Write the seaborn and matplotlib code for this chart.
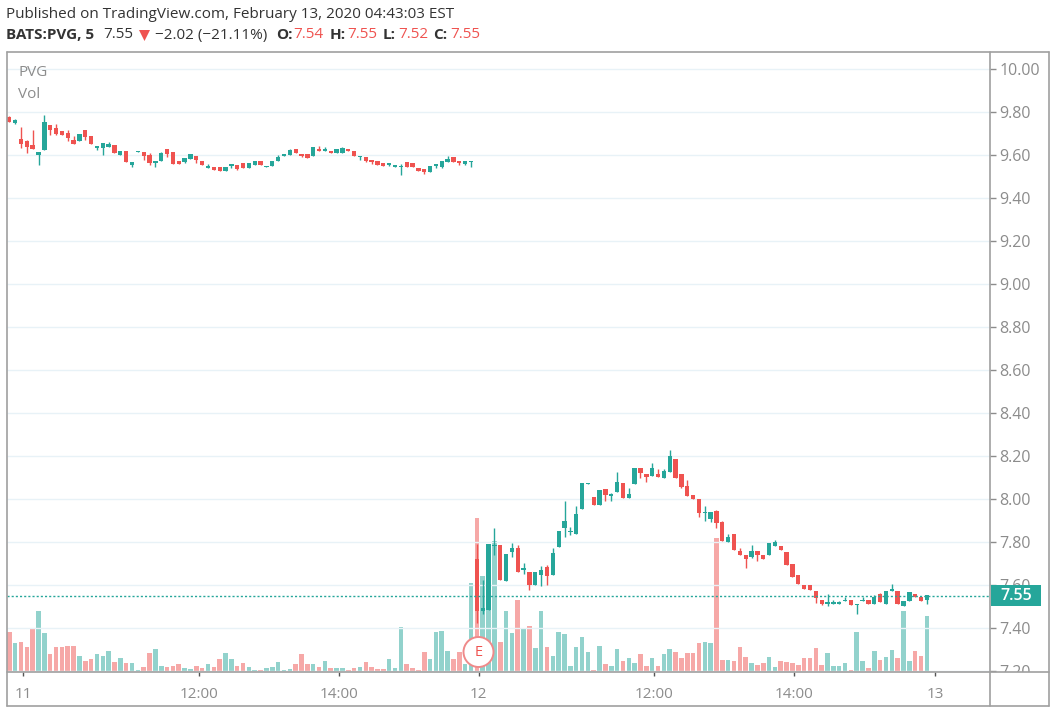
import numpy as np
import pandas as pd
import matplotlib
matplotlib.use("Agg")
import matplotlib.pyplot as plt
import seaborn as sns
from matplotlib.lines import Line2D
from matplotlib.patches import Rectangle, Circle, Polygon
from matplotlib.transforms import Affine2D, Bbox

opens = [9.78,9.75,9.676,9.668,9.647,9.60,9.625,9.743,9.725,9.713,9.703,9.671,9.666,9.719,9.69,9.636,9.636,9.638,9.647,9.60,
 9.619,9.554,9.614,9.617,9.60,9.566,9.573,9.628,9.617,9.576,9.571,9.585,9.598,9.576,9.543,9.546,9.546,9.525,9.552,9.557,
 9.563,9.54,9.557,9.572,9.546,9.55,9.574,9.598,9.603,9.631,9.608,9.608,9.598,9.631,9.622,9.619,9.609,9.609,9.631,9.622,
 9.591,9.591,9.58,9.574,9.563,9.557,9.547,9.546,9.567,9.563,9.54,9.538,9.522,9.549,9.544,9.567,9.591,9.572,9.561,9.567,
 7.721,7.479,7.484,7.783,7.786,7.619,7.752,7.774,7.67,7.662,7.60,7.648,7.685,7.647,7.777,7.865,7.847,7.836,7.954,8.07,
 8.008,7.975,8.045,8.016,8.034,8.073,8.005,8.07,8.143,8.119,8.109,8.119,8.098,8.127,8.189,8.115,8.062,8.02,8.003,7.935,
 7.907,7.946,7.892,7.799,7.839,7.758,7.74,7.733,7.757,7.74,7.741,7.781,7.781,7.752,7.699,7.647,7.60,7.60,7.571,7.53,
 7.513,7.513,7.514,7.526,7.53,7.506,7.526,7.53,7.513,7.558,7.513,7.571,7.571,7.502,7.526,7.558,7.546,7.533]
highs = [9.785,9.768,9.732,9.672,9.716,9.617,9.787,9.743,9.744,9.713,9.716,9.692,9.70,9.719,9.69,9.641,9.659,9.66,9.647,9.619,
 9.619,9.57,9.619,9.617,9.612,9.571,9.617,9.628,9.617,9.576,9.587,9.604,9.598,9.576,9.56,9.546,9.546,9.546,9.557,9.557,
 9.563,9.563,9.572,9.572,9.55,9.572,9.603,9.603,9.631,9.631,9.608,9.608,9.64,9.643,9.64,9.619,9.631,9.64,9.631,9.622,
 9.597,9.591,9.58,9.574,9.563,9.561,9.555,9.56,9.567,9.563,9.54,9.538,9.55,9.561,9.574,9.598,9.591,9.572,9.572,9.574,
 7.791,7.623,7.791,7.867,7.786,7.744,7.794,7.786,7.705,7.662,7.662,7.688,7.693,7.775,7.853,7.992,7.871,7.967,8.073,8.074,
 8.008,8.043,8.045,8.03,8.126,8.073,8.05,8.143,8.143,8.119,8.166,8.141,8.14,8.229,8.189,8.119,8.09,8.02,8.003,7.969,
 7.938,7.95,7.898,7.839,7.839,7.771,7.74,7.786,7.757,7.74,7.795,7.811,7.781,7.752,7.699,7.647,7.60,7.60,7.571,7.53,
 7.56,7.532,7.526,7.547,7.53,7.513,7.547,7.53,7.555,7.563,7.572,7.606,7.571,7.524,7.566,7.558,7.546,7.554]
lows = [9.757,9.745,9.636,9.612,9.63,9.554,9.625,9.697,9.697,9.697,9.665,9.655,9.666,9.671,9.655,9.624,9.60,9.638,9.612,9.60,
 9.571,9.544,9.614,9.577,9.554,9.547,9.573,9.592,9.56,9.56,9.565,9.585,9.563,9.555,9.543,9.531,9.525,9.525,9.541,9.53,
 9.54,9.54,9.557,9.557,9.546,9.55,9.574,9.598,9.603,9.609,9.591,9.586,9.598,9.619,9.622,9.609,9.609,9.609,9.622,9.597,
 9.578,9.567,9.561,9.557,9.552,9.55,9.547,9.51,9.544,9.544,9.529,9.515,9.522,9.541,9.54,9.567,9.567,9.557,9.557,9.544,
 7.426,7.465,7.484,7.74,7.623,7.619,7.732,7.659,7.65,7.577,7.60,7.595,7.60,7.647,7.777,7.825,7.834,7.836,7.954,8.07,
 7.975,7.975,7.992,7.992,8.034,8.005,8.005,8.07,8.098,8.08,8.109,8.104,8.098,8.127,8.098,8.05,8.016,7.999,7.918,7.899,
 7.895,7.865,7.805,7.799,7.764,7.741,7.681,7.727,7.712,7.723,7.741,7.781,7.764,7.695,7.636,7.606,7.581,7.578,7.516,7.506,
 7.505,7.513,7.514,7.526,7.509,7.464,7.526,7.513,7.513,7.52,7.513,7.571,7.513,7.502,7.526,7.546,7.526,7.513]
closes = [9.757,9.763,9.652,9.64,9.63,9.617,9.755,9.72,9.70,9.697,9.679,9.655,9.70,9.687,9.655,9.641,9.659,9.654,9.612,9.619,
 9.571,9.57,9.619,9.596,9.565,9.571,9.612,9.608,9.56,9.56,9.587,9.604,9.579,9.555,9.549,9.531,9.525,9.546,9.557,9.538,
 9.54,9.563,9.572,9.557,9.55,9.572,9.591,9.603,9.626,9.609,9.597,9.586,9.637,9.619,9.631,9.609,9.631,9.634,9.622,9.597,
 9.597,9.572,9.567,9.557,9.552,9.561,9.555,9.552,9.544,9.544,9.529,9.521,9.55,9.561,9.574,9.585,9.567,9.563,9.572,9.574,
 7.481,7.495,7.791,7.789,7.623,7.744,7.774,7.659,7.678,7.60,7.662,7.67,7.642,7.75,7.853,7.899,7.853,7.933,8.073,8.074,
 7.975,8.043,8.02,8.022,8.079,8.005,8.026,8.143,8.121,8.104,8.143,8.104,8.132,8.2,8.098,8.056,8.016,7.999,7.935,7.941,
 7.938,7.887,7.805,7.826,7.764,7.741,7.723,7.758,7.74,7.723,7.795,7.80,7.764,7.695,7.636,7.606,7.581,7.578,7.538,7.512,
 7.52,7.52,7.52,7.532,7.509,7.513,7.532,7.513,7.547,7.52,7.572,7.583,7.513,7.524,7.566,7.546,7.526,7.554]
volumes = [40,29,30,25,44,61,39,18,25,25,26,26,16,11,13,18,16,21,10,14,
 9,9,1.5,5,19,23,6,5,6,8,4,3,6,4,8,5,13,19,13,6,
 9,5,1.5,1.5,4,5,10,1.5,3,8,18,8,8,5,11,4,4,4,1.5,4,
 5,10,5,3,3,13,4,45,8,4,1.5,20,13,40,41,21,13,20,8,89,
 154,96,70,131,30,61,38.5,72,42.5,46,24,61,25,16,40,37.5,6,25,35,20,
 1.5,26,8,6,23,11,14,9,18,6,14,6,18,23,20,14,19,19,29,30,
 29,134,12,12,11,25,15,9,7,9,15,5,11,10,9,7,14,14,24,7,
 19,6,6,9,2,40,11,4,21,12,15,22,14,61,11,21,16,56]
price_ticks = [7.2,7.4,7.6,7.8,8.0,8.2,8.4,8.6,8.8,9.0,9.2,9.4,9.6,9.8,10.0]
time_ticks = [2.4,32.4,56.4,80.3,110.3,134.3,158.4]
time_labels = ["11","12:00","14:00","12","12:00","14:00","13"]
last_price = 7.55
header_1 = "Published on TradingView.com, February 13, 2020 04:43:03 EST"

UP, DOWN = "#26a69a", "#ef5350"
GREY = "#8c8c8c"
W, H = 1056, 714
sns.set_theme(style="white")
plt.rcParams["font.family"] = ["Open Sans", "DejaVu Sans"]
px = Affine2D().scale(1, -1).translate(0, H)

fig = plt.figure(figsize=(W/100, H/100), dpi=100, facecolor="white")
L, R, T, B = 7, 990, 52, 671.5
XMIN, XMAX = -0.39, 167.8
ax = fig.add_axes([L/W, 1-B/H, (R-L)/W, (B-T)/H])
vax = ax.twinx()
ax.set_zorder(2); vax.set_zorder(1)
ax.patch.set_alpha(0)
vax.patch.set_facecolor("white")

df = pd.DataFrame({"i": np.arange(len(opens)), "o": opens, "h": highs, "l": lows, "c": closes, "v": volumes})
df["dir"] = np.where(df.c >= df.o, "up", "down")
pal = {"up": UP, "down": DOWN}

sns.barplot(data=df, x="i", y="v", hue="dir", palette=pal, dodge=False, native_scale=True,
            alpha=0.5, saturation=1, legend=False, errorbar=None, ax=vax)
# give every volume bar the same width, centred on its own position
for patch in vax.patches:
    centre = patch.get_x() + patch.get_width()/2
    patch.set_width(0.78)
    patch.set_x(centre - 0.39)
    patch.set_linewidth(0)
vax.set_ylim(0, B-T)
vax.set_xlabel(""); vax.set_ylabel("")
vax.set_yticks([]); vax.grid(False)
for s in vax.spines.values():
    s.set_visible(False)

ax.set_xlim(XMIN, XMAX)
vax.set_xlim(XMIN, XMAX)
ax.set_ylim(7.198, 10.081)
vax.hlines([], XMIN, XMAX)
ax.hlines(price_ticks, XMIN, XMAX, color="#e8f2f7", lw=1.0, zorder=0)

colors = df.dir.map(pal).tolist()
ax.vlines(df.i, df.l, df.h, colors=colors, lw=1.0, zorder=3)
ax.bar(df.i, (df.c-df.o).abs().clip(lower=0.006), bottom=df[["o", "c"]].min(axis=1),
       width=0.74, color=colors, lw=0, zorder=4)
ax.axhline(last_price, color=UP, lw=1.0, ls=(0, (1.5, 1.5)), zorder=5)

ax.yaxis.tick_right()
ax.set_yticks(price_ticks, [f"{p:.2f}" for p in price_ticks])
ax.set_xticks(time_ticks, time_labels)
ax.tick_params(axis="y", length=4, width=1, color=GREY, labelcolor=GREY, labelsize=11.5, pad=3, right=True)
ax.tick_params(axis="x", length=3, width=1, color="#555555", labelcolor=GREY, labelsize=11, pad=8, bottom=True)
ax.grid(False)
ax.set_xlabel(""); ax.set_ylabel("")
for s in ax.spines.values():
    s.set_visible(False)
clip = Bbox([[R, H-B], [W, H-T]])
for lab in ax.get_yticklabels():
    lab.set_clip_box(clip); lab.set_clip_on(True)

# frame of the chart
for xs, ys in [((L, 1049), (T, T)), ((L, L), (T, 706)), ((L, 1049), (706, 706)), ((1049, 1049), (T, 706)),
               ((R, R), (T, 706)), ((L, 1049), (B, B))]:
    fig.add_artist(Line2D(xs, ys, transform=px, color="#a0a0a0", lw=1.2, zorder=6))

# last price tag
fig.add_artist(Rectangle((990.5, 585), 50.5, 21, transform=px, fc=UP, ec="none", zorder=7))
fig.text(1016, 595.5, f"{last_price:.2f}", transform=px, color="white", fontsize=11.5, fontweight="semibold",
         ha="center", va="center", zorder=8)

# earnings marker
fig.add_artist(Circle((478.5, 652), 15, transform=px, fc="white", ec="#ef8a8a", lw=1.4, zorder=7))
fig.text(478.5, 652, "E", transform=px, color="#ef5350", fontsize=10.5, ha="center", va="center", zorder=8)

fig.text(18, 73, "PVG", transform=px, color=GREY, fontsize=11, va="center")
fig.text(18, 94.5, "Vol", transform=px, color=GREY, fontsize=11, va="center")

# header
fig.text(6, 14, header_1, transform=px, color="#333333", fontsize=11, va="center")
segments = [(6, "BATS:PVG, 5", "#333333", "bold"), (103, "7.55", "#333333", "normal"),
            (155, "\u22122.02 (\u221221.11%)", "#333333", "normal"),
            (276.5, "O:", "#333333", "bold"), (293, "7.54", DOWN, "normal"),
            (330, "H:", "#333333", "bold"), (347, "7.55", DOWN, "normal"),
            (383, "L:", "#333333", "bold"), (398, "7.52", DOWN, "normal"),
            (433, "C:", "#333333", "bold"), (450, "7.55", DOWN, "normal")]
for x, s, c, w in segments:
    fig.text(x, 35, s, transform=px, color=c, fontsize=11, fontweight=w, va="center")
fig.add_artist(Polygon([(139, 30), (150, 30), (144.5, 41)], closed=True, transform=px, fc=DOWN, ec="none"))

fig.savefig("out.png", dpi=100, facecolor="white")
